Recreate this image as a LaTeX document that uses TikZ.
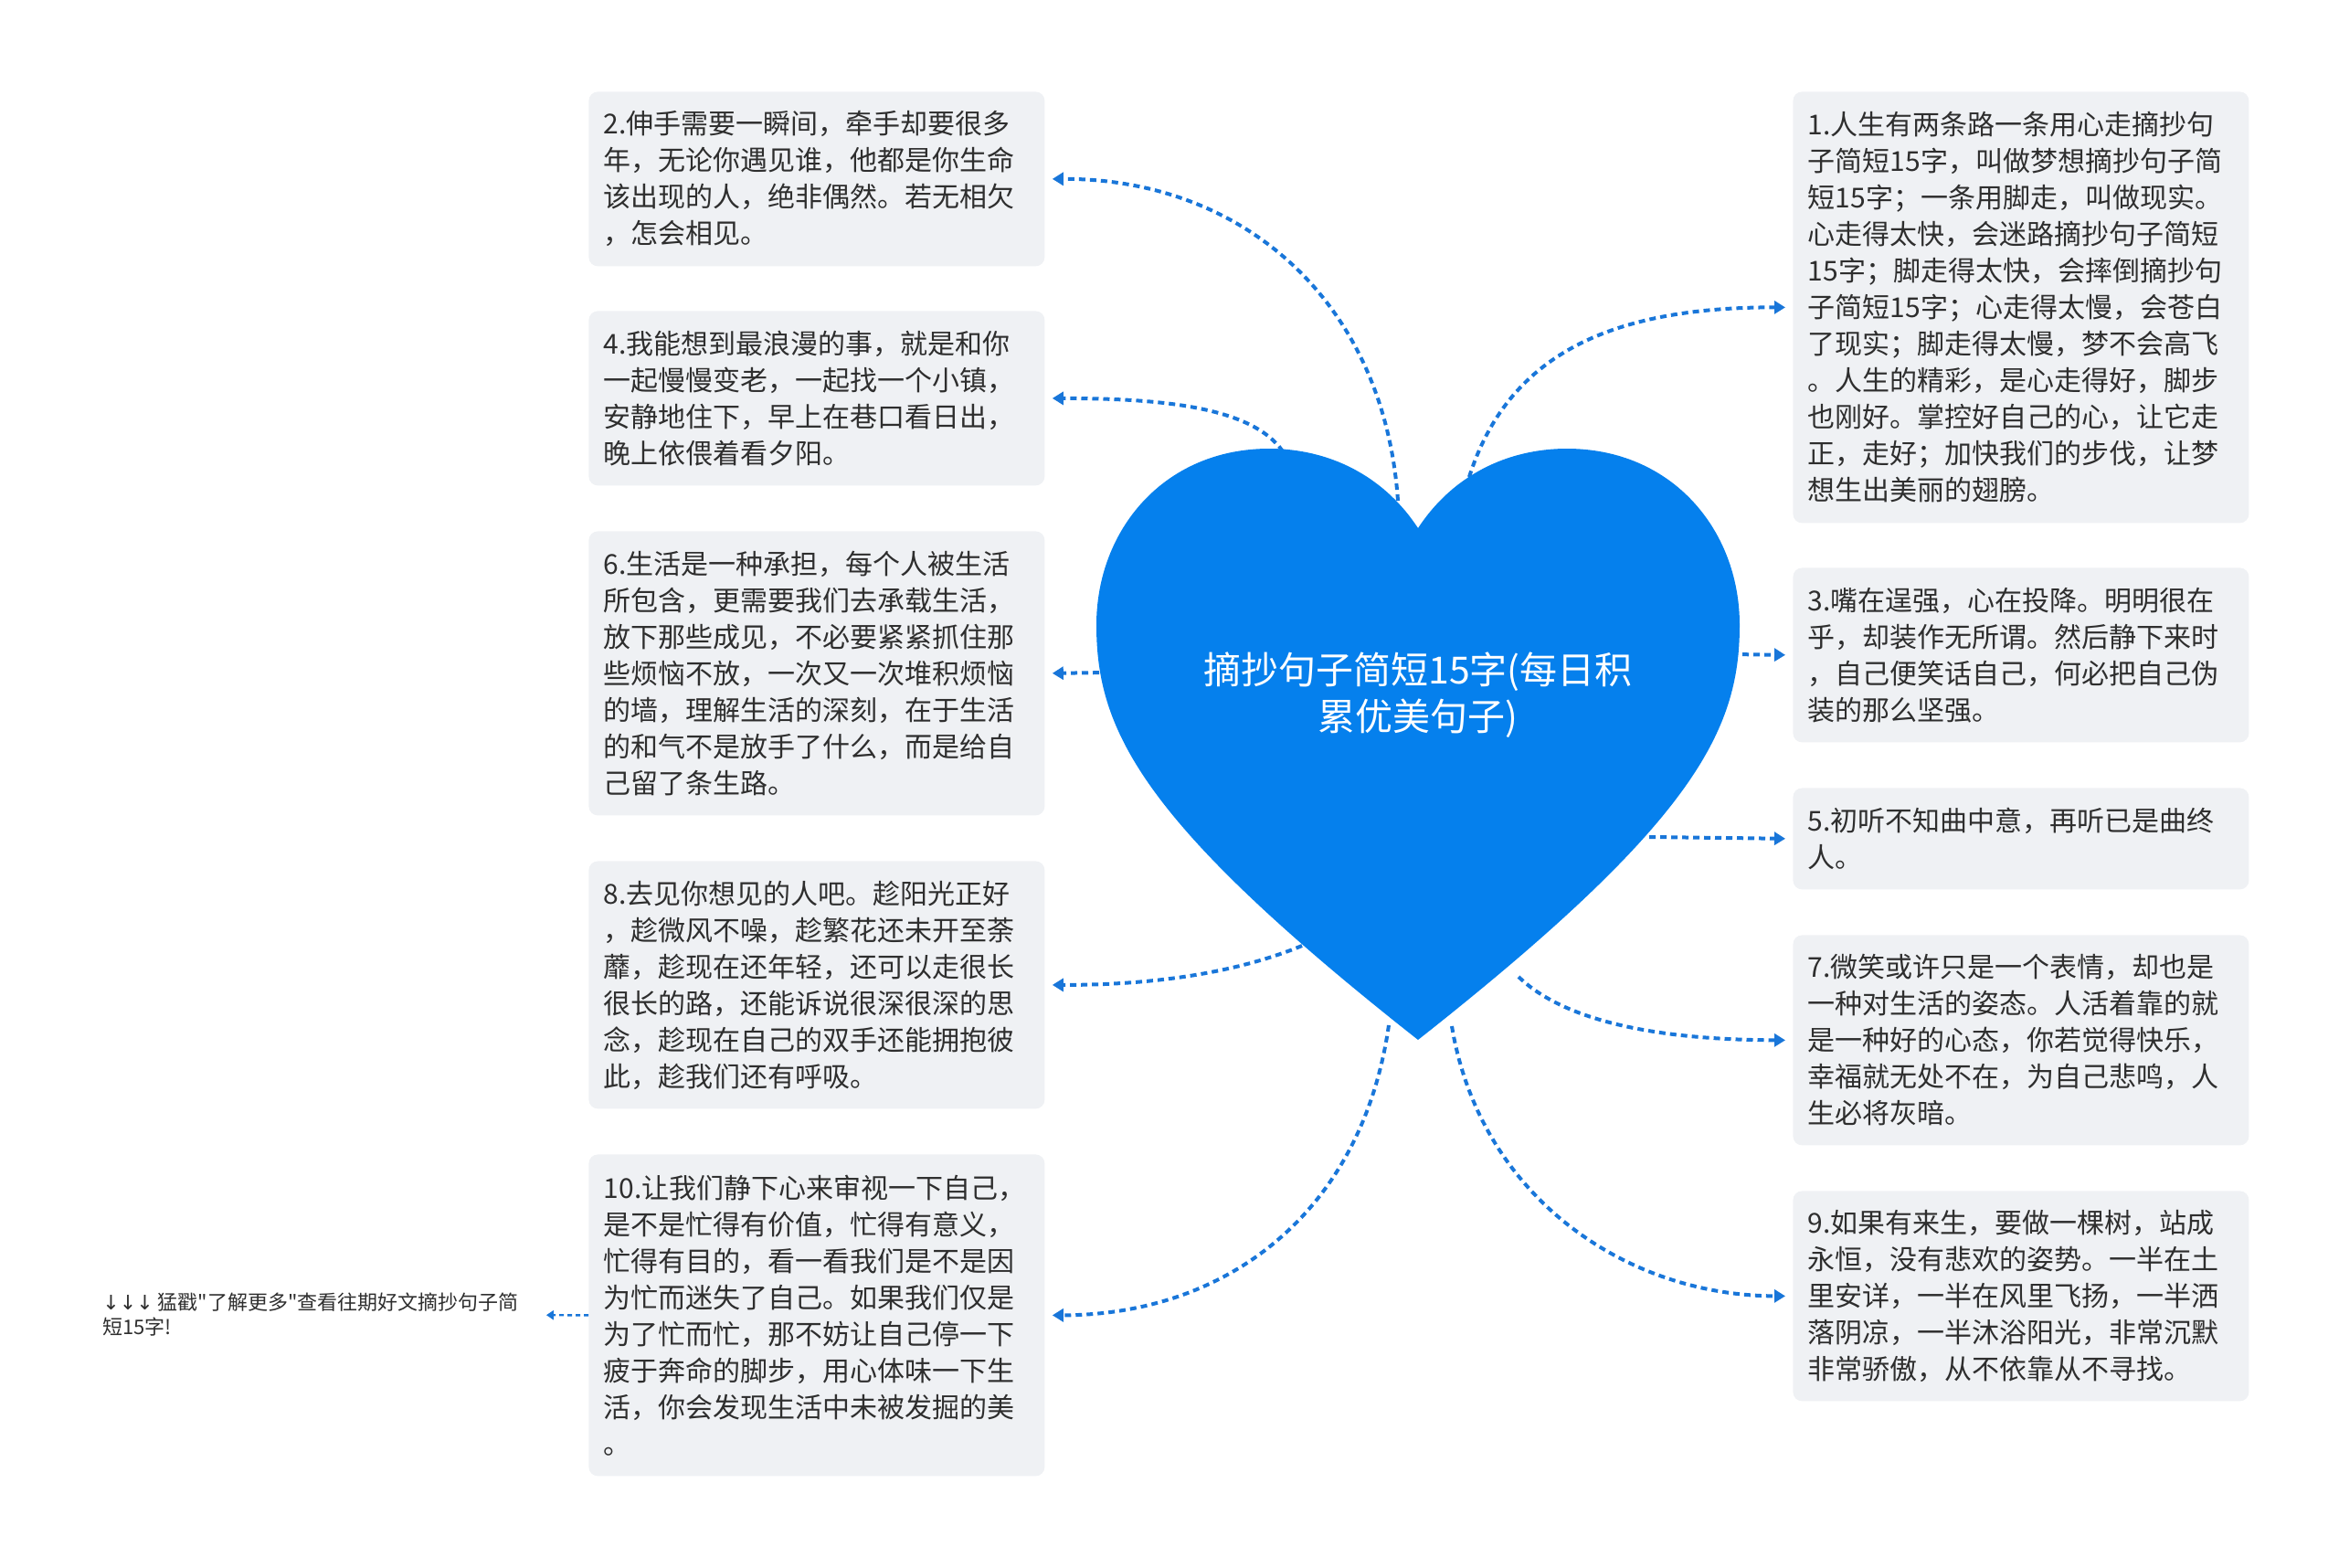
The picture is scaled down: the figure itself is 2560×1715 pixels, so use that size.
\documentclass[tikz,border=0pt]{standalone}
\usepackage{fontspec}
\setmainfont{Noto Sans CJK SC}
\newfontfamily\arrowfont{DejaVu Sans}
\usetikzlibrary{arrows.meta}
\definecolor{heartblue}{HTML}{0580ED}
\definecolor{linkblue}{HTML}{1976D9}
\definecolor{boxfill}{HTML}{EFF1F4}
\definecolor{txt}{HTML}{2E2E2E}
\begin{document}
\begin{tikzpicture}[x=0.5pt,y=-0.5pt,
  leaf/.style={fill=boxfill, rounded corners=5pt, anchor=north west, text width=233pt,
    inner xsep=8.25pt, inner ysep=0pt, align=left, text=txt,
    font=\fontsize{15pt}{20pt}\selectfont},
  link/.style={draw=linkblue, line width=2pt, dash pattern=on 3.5pt off 2.5pt,
    -{Triangle[length=6pt,width=7pt]}, shorten >=4pt}]
\useasboundingbox (0,0) rectangle (2560,1715);

% leaf boxes
\node[leaf, minimum height=95.5pt] (b2) at (644,100) {2.伸手需要一瞬间，牵手却要很多\\年，无论你遇见谁，他都是你生命\\该出现的人，绝非偶然。若无相欠\\，怎会相见。};
\node[leaf, minimum height=95.5pt] (b4) at (644,340) {4.我能想到最浪漫的事，就是和你\\一起慢慢变老，一起找一个小镇，\\安静地住下，早上在巷口看日出，\\晚上依偎着看夕阳。};
\node[leaf, minimum height=155.5pt] (b6) at (644,581) {6.生活是一种承担，每个人被生活\\所包含，更需要我们去承载生活，\\放下那些成见，不必要紧紧抓住那\\些烦恼不放，一次又一次堆积烦恼\\的墙，理解生活的深刻，在于生活\\的和气不是放手了什么，而是给自\\己留了条生路。};
\node[leaf, minimum height=135.5pt] (b8) at (644,942) {8.去见你想见的人吧。趁阳光正好\\，趁微风不噪，趁繁花还未开至荼\\蘼，趁现在还年轻，还可以走很长\\很长的路，还能诉说很深很深的思\\念，趁现在自己的双手还能拥抱彼\\此，趁我们还有呼吸。};
\node[leaf, minimum height=176pt] (b10) at (644,1263) {10.让我们静下心来审视一下自己，\\是不是忙得有价值，忙得有意义，\\忙得有目的，看一看我们是不是因\\为忙而迷失了自己。如果我们仅是\\为了忙而忙，那不妨让自己停一下\\疲于奔命的脚步，用心体味一下生\\活，你会发现生活中未被发掘的美\\。};
\node[leaf, minimum height=236pt] (b1) at (1962,100) {1.人生有两条路一条用心走摘抄句\\子简短15字，叫做梦想摘抄句子简\\短15字；一条用脚走，叫做现实。\\心走得太快，会迷路摘抄句子简短\\15字；脚走得太快，会摔倒摘抄句\\子简短15字；心走得太慢，会苍白\\了现实；脚走得太慢，梦不会高飞\\。人生的精彩，是心走得好，脚步\\也刚好。掌控好自己的心，让它走\\正，走好；加快我们的步伐，让梦\\想生出美丽的翅膀。};
\node[leaf, minimum height=95.5pt] (b3) at (1962,621) {3.嘴在逞强，心在投降。明明很在\\乎，却装作无所谓。然后静下来时\\，自己便笑话自己，何必把自己伪\\装的那么坚强。};
\node[leaf, minimum height=55.5pt] (b5) at (1962,862) {5.初听不知曲中意，再听已是曲终\\人。};
\node[leaf, minimum height=115pt] (b7) at (1962,1023) {7.微笑或许只是一个表情，却也是\\一种对生活的姿态。人活着靠的就\\是一种好的心态，你若觉得快乐，\\幸福就无处不在，为自己悲鸣，人\\生必将灰暗。};
\node[leaf, minimum height=115pt] (b9) at (1962,1303) {9.如果有来生，要做一棵树，站成\\永恒，没有悲欢的姿势。一半在土\\里安详，一半在风里飞扬，一半洒\\落阴凉，一半沐浴阳光，非常沉默\\非常骄傲，从不依靠从不寻找。};

\node[anchor=west, inner sep=0pt, align=left, text=txt,
  font=\fontsize{11pt}{13.5pt}\selectfont] (more) at (112,1439)
  {{\arrowfont ↓↓↓}~猛戳\textquotedbl{}了解更多\textquotedbl{}查看往期好文摘抄句子简\\短15字!};

% start points on the heart
\coordinate (s2) at (1530,548);
\coordinate (s4) at (1404,494);
\coordinate (s6) at (1215,736);
\coordinate (s8) at (1425,1035);
\coordinate (s10) at (1520,1122);
\coordinate (s1) at (1608,522);
\coordinate (s3) at (1895,716);
\coordinate (s5) at (1805,916);
\coordinate (s7) at (1662,1069);
\coordinate (s9) at (1589,1123);

% connectors
\draw[link] (s2) .. controls (1515,330) and (1360,195) .. (b2.east);
\draw[link] (s4) .. controls (1370,445) and (1270,436) .. (b4.east);
\draw[link] (s6) -- (b6.east);
\draw[link] (s8) .. controls (1340,1070) and (1240,1078) .. (b8.east);
\draw[link] (s10) .. controls (1490,1330) and (1340,1439) .. (b10.east);
\draw[link] (s1) .. controls (1650,390) and (1760,336) .. (b1.west);
\draw[link] (s3) -- (b3.west);
\draw[link] (s5) -- (b5.west);
\draw[link] (s7) .. controls (1720,1125) and (1840,1138) .. (b7.west);
\draw[link] (s9) .. controls (1620,1310) and (1780,1418) .. (b9.west);
\draw[link, line width=1.2pt, dash pattern=on 2.5pt off 2pt,
  -{Triangle[length=4pt,width=5pt]}, shorten >=15pt] (b10.west) -- (more.east);

% heart
\fill[heartblue] (1552,578)
  .. controls (1590,520) and (1650,491) .. (1715,491)
  .. controls (1830,491) and (1904,580) .. (1904,684)
  .. controls (1904,800) and (1854,900) .. (1552,1138)
  .. controls (1250,900) and (1200,800) .. (1200,684)
  .. controls (1200,580) and (1274,491) .. (1389,491)
  .. controls (1454,491) and (1514,520) .. (1552,578) -- cycle;
\node[text=white, align=center, font=\fontsize{20.5pt}{25.5pt}\selectfont] (root) at (1552,761)
  {摘抄句子简短15字(每日积\\累优美句子)};
\end{tikzpicture}
\end{document}
